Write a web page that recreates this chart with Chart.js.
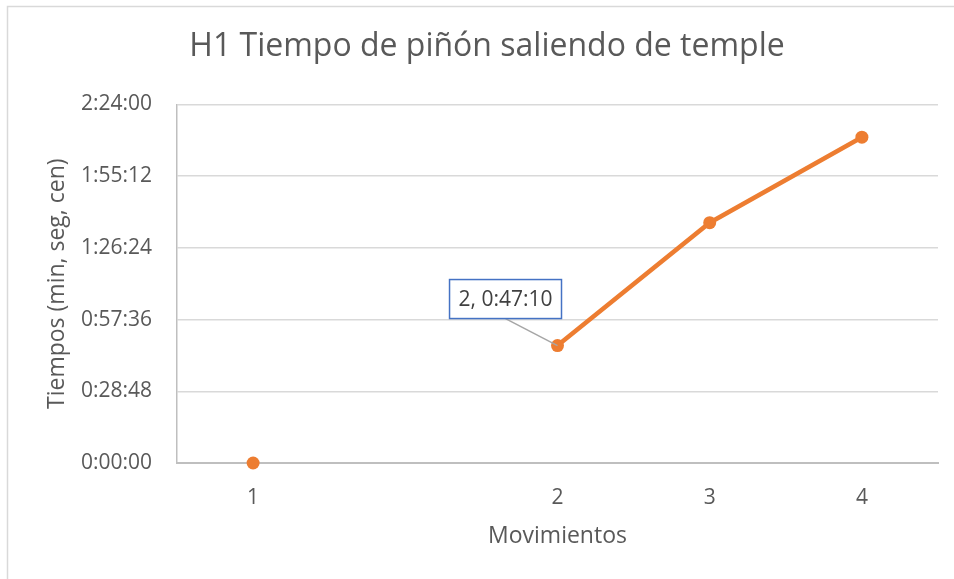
<!DOCTYPE html>
<html><head><meta charset="utf-8">
<script src="https://cdn.jsdelivr.net/npm/chart.js@4"></script>
<style>html,body{margin:0;padding:0;background:#fff;}#wrap{width:954px;height:579px;position:relative;}</style>
</head><body><div id="wrap"><canvas id="c" width="954" height="579"></canvas></div>
<script>
// ---- data ----
const categories = ['1', '', '2', '3', '4'];
const tiempos = [0, null, 2830, 5790, 7850]; // seconds (shown as h:mm:ss)
const yTicks = [0, 1728, 3456, 5184, 6912, 8640];
const titleText = 'H1 Tiempo de piñón saliendo de temple';
const xTitle = 'Movimientos';
const yTitle = 'Tiempos (min, seg, cen)';
const labelIndex = 2;

function fmt(v) {
  v = Math.round(v);
  const h = Math.floor(v / 3600), m = Math.floor((v % 3600) / 60), s = v % 60;
  return h + ':' + String(m).padStart(2, '0') + ':' + String(s).padStart(2, '0');
}

const FONT = 'Open Sans';
const TXT = '#595959';

const framePlugin = {
  id: 'frame',
  beforeDraw(chart) {
    const ctx = chart.ctx;
    ctx.save();
    ctx.fillStyle = '#fff';
    ctx.fillRect(0, 0, chart.width, chart.height);
    ctx.strokeStyle = '#D9D9D9';
    ctx.lineWidth = 1.5;
    ctx.beginPath();
    ctx.moveTo(7.5, chart.height);
    ctx.lineTo(7.5, 6.5);
    ctx.lineTo(chart.width, 6.5);
    ctx.stroke();
    ctx.restore();
  }
};

const labelPlugin = {
  id: 'pointLabel',
  afterDatasetsDraw(chart) {
    const pt = chart.getDatasetMeta(0).data[labelIndex];
    if (!pt) return;
    const ctx = chart.ctx;
    const text = categories[labelIndex] + ', ' + fmt(tiempos[labelIndex]);
    ctx.save();
    ctx.font = '21px "' + FONT + '"';
    const w = ctx.measureText(text).width + 18;
    const h = 39;
    const right = pt.x + 4, bottom = pt.y - 27;
    const left = right - w, top = bottom - h;
    // leader line
    ctx.strokeStyle = '#A6A6A6';
    ctx.lineWidth = 1.5;
    ctx.beginPath();
    ctx.moveTo(left + w / 2, bottom);
    ctx.lineTo(pt.x, pt.y);
    ctx.stroke();
    // box
    ctx.fillStyle = '#fff';
    ctx.fillRect(left, top, w, h);
    ctx.strokeStyle = '#4472C4';
    ctx.lineWidth = 1.5;
    ctx.strokeRect(left, top, w, h);
    ctx.fillStyle = '#404040';
    ctx.textAlign = 'center';
    ctx.textBaseline = 'middle';
    ctx.fillText(text, left + w / 2, top + h / 2 + 1);
    ctx.restore();
  }
};

new Chart(document.getElementById('c'), {
  type: 'line',
  data: {
    labels: categories,
    datasets: [{
      data: tiempos,
      borderColor: '#ED7D31',
      backgroundColor: '#ED7D31',
      borderWidth: 4.5,
      pointRadius: 6.5,
      pointBackgroundColor: '#ED7D31',
      pointBorderWidth: 0,
      spanGaps: false,
      tension: 0,
      clip: false
    }]
  },
  options: {
    responsive: false,
    animation: false,
    devicePixelRatio: 1,
    layout: { padding: { top: 0, left: 36, right: 16, bottom: 0 } },
    plugins: {
      legend: { display: false },
      tooltip: { enabled: false },
      title: {
        display: true, text: titleText, color: TXT,
        font: { family: FONT, size: 32, weight: 'normal' },
        padding: { top: 28, bottom: 38 }
      }
    },
    scales: {
      x: {
        type: 'category',
        offset: true,
        grid: { display: false, drawTicks: false },
        border: { display: true, color: '#BFBFBF', width: 2 },
        ticks: { color: TXT, font: { family: FONT, size: 21 }, padding: 22, maxRotation: 0, autoSkip: false },
        title: { display: true, text: xTitle, color: TXT, font: { family: FONT, size: 23 }, padding: { top: 0, bottom: 28.5 } },
        afterFit: s => { s.height = 116; }
      },
      y: {
        min: 0, max: 8640,
        afterBuildTicks: s => { s.ticks = yTicks.map(v => ({ value: v })); },
        grid: { color: '#D9D9D9', lineWidth: 1.5, drawTicks: false },
        border: { display: true, color: '#BFBFBF', width: 1.5 },
        ticks: { color: TXT, font: { family: FONT, size: 21 }, padding: 25, callback: v => fmt(v) },
        title: { display: true, text: yTitle, color: TXT, font: { family: FONT, size: 23 }, padding: { top: 7.6, bottom: 0 } },
        afterFit: s => { s.width = 141; }
      }
    }
  },
  plugins: [framePlugin, labelPlugin]
});
</script>
</body></html>
